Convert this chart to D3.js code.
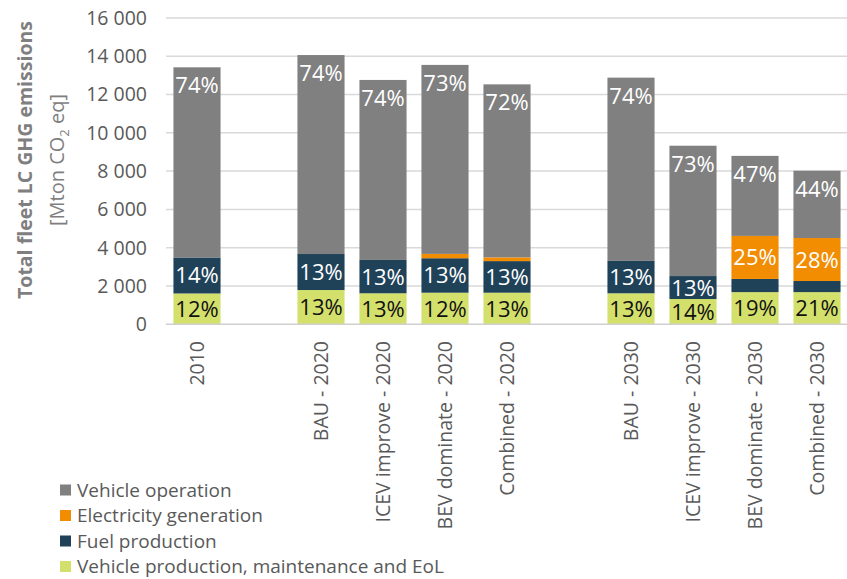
<!DOCTYPE html>
<html>
<head>
<meta charset="utf-8">
<script src="https://cdn.jsdelivr.net/npm/d3@7"></script>
<style>
  body { margin: 0; background: #fff; }
  svg { display: block; font-family: "Open Sans", sans-serif; }
</style>
</head>
<body>
<svg width="847" height="579"></svg>
<script>
// categories, "" = empty gap slot between the groups
var categories = ["2010", "", "BAU - 2020", "ICEV improve - 2020", "BEV dominate - 2020", "Combined - 2020",
                  "", "BAU - 2030", "ICEV improve - 2030", "BEV dominate - 2030", "Combined - 2030"];
var barCats = [0, 2, 3, 4, 5, 7, 8, 9, 10];

// Mton CO2 eq
var vehProd  = [1610, 1790, 1620, 1650, 1650, 1620, 1320, 1680, 1680];
var fuelProd = [1880, 1880, 1740, 1800, 1650, 1690, 1200, 690, 580];
var elecGen  = [0, 0, 0, 225, 195, 0, 0, 2245, 2245];
var vehOp    = [9930, 10390, 9400, 9870, 9035, 9570, 6805, 4180, 3515];

// percent labels as printed (null = no label)
var vehProdLbl  = [12, 13, 13, 12, 13, 13, 14, 19, 21];
var fuelProdLbl = [14, 13, 13, 13, 13, 13, 13, null, null];
var elecGenLbl  = [null, null, null, null, null, null, null, 25, 28];
var vehOpLbl    = [74, 74, 74, 73, 72, 74, 73, 47, 44];

var yTicks = [0, 2000, 4000, 6000, 8000, 10000, 12000, 14000, 16000];

var seriesNames = ["Vehicle production, maintenance and EoL", "Fuel production", "Electricity generation", "Vehicle operation"];
var seriesColors = ["#d3e06c", "#1f4259", "#f28c00", "#808080"];
var labelColors = ["#111", "#fff", "#fff", "#fff"];

var svg = d3.select('svg');
var margin = {left: 166, right: -1, top: 18, bottom: 255};
var width = 847, height = 579;

var xScale = d3.scaleBand()
  .domain(d3.range(categories.length))
  .range([margin.left, width - margin.right])
  .paddingInner(0.24).paddingOuter(0.12);
var yScale = d3.scaleLinear().domain([0, 16000]).range([324.3, 17.9]);

// gridlines
svg.append('g').selectAll('line').data(yTicks.slice(1)).enter().append('line')
  .attr('x1', margin.left).attr('x2', width)
  .attr('y1', d => yScale(d)).attr('y2', d => yScale(d))
  .attr('stroke', '#d9d9d9').attr('stroke-width', 1.5);

// y tick labels
svg.append('g').selectAll('text').data(yTicks).enter().append('text')
  .attr('x', 147).attr('y', d => yScale(d)).attr('dy', '0.35em')
  .attr('text-anchor', 'end').attr('fill', '#595959').style('font-size', '19.5px')
  .text(d => d3.format(',')(d).replace(',', ' '));

// stack
var rows = barCats.map(function (c, i) {
  return {cat: c, vals: [vehProd[i], fuelProd[i], elecGen[i], vehOp[i]],
          lbls: [vehProdLbl[i], fuelProdLbl[i], elecGenLbl[i], vehOpLbl[i]]};
});
rows.forEach(function (r) {
  var acc = 0;
  r.segs = r.vals.map(function (v, k) {
    var s = {k: k, y0: acc, y1: acc + v, lbl: r.lbls[k], cat: r.cat};
    acc += v;
    return s;
  });
});

var g = svg.append('g');
rows.forEach(function (r) {
  g.selectAll(null).data(r.segs.filter(s => s.y1 > s.y0)).enter().append('rect')
    .attr('x', xScale(r.cat)).attr('width', xScale.bandwidth())
    .attr('y', s => yScale(s.y1)).attr('height', s => yScale(s.y0) - yScale(s.y1))
    .attr('fill', s => seriesColors[s.k]);
});

// baseline
svg.append('line').attr('x1', margin.left).attr('x2', width)
  .attr('y1', yScale(0)).attr('y2', yScale(0))
  .attr('stroke', '#d0d0d0').attr('stroke-width', 1.5);

// percent labels
rows.forEach(function (r) {
  g.selectAll(null).data(r.segs.filter(s => s.lbl != null)).enter().append('text')
    .attr('x', xScale(r.cat) + xScale.bandwidth() / 2)
    .attr('y', s => s.k == 3 ? yScale(s.y1) + 26 : (yScale(s.y0) + yScale(s.y1)) / 2 + 8)
    .attr('text-anchor', 'middle').attr('fill', s => labelColors[s.k])
    .style('font-size', '22px')
    .text(s => s.lbl + '%');
});

// x labels
svg.append('g').selectAll('text').data(d3.range(categories.length)).enter().append('text')
  .attr('transform', d => 'translate(' + (xScale(d) + xScale.bandwidth() / 2 + 7) + ',341) rotate(-90)')
  .attr('text-anchor', 'end').attr('fill', '#595959').style('font-size', '19.5px')
  .text(d => categories[d]);

// y axis title
svg.append('text')
  .attr('transform', 'translate(32,160) rotate(-90)')
  .attr('text-anchor', 'middle').attr('fill', '#7f7f7f')
  .style('font-size', '19.5px').style('font-weight', 'bold')
  .text('Total fleet LC GHG emissions');
var t2 = svg.append('text')
  .attr('transform', 'translate(64,160) rotate(-90)')
  .attr('text-anchor', 'middle').attr('fill', '#7f7f7f')
  .style('font-size', '20px');
t2.append('tspan').text('[Mton CO');
t2.append('tspan').attr('dy', 5).style('font-size', '13px').text('2');
t2.append('tspan').attr('dy', -5).text(' eq]');

// legend (top to bottom reversed order)
var legendOrder = [3, 2, 1, 0];
var leg = svg.append('g').selectAll('g').data(legendOrder).enter().append('g')
  .attr('transform', (d, i) => 'translate(60,' + (490 + i * 25.5) + ')');
leg.append('rect').attr('x', 0).attr('y', -5.5).attr('width', 11).attr('height', 11)
  .attr('fill', d => seriesColors[d]);
leg.append('text').attr('x', 17).attr('y', 0).attr('dy', '0.35em')
  .attr('fill', '#595959').style('font-size', '19px')
  .text(d => seriesNames[d]);
</script>
</body>
</html>
